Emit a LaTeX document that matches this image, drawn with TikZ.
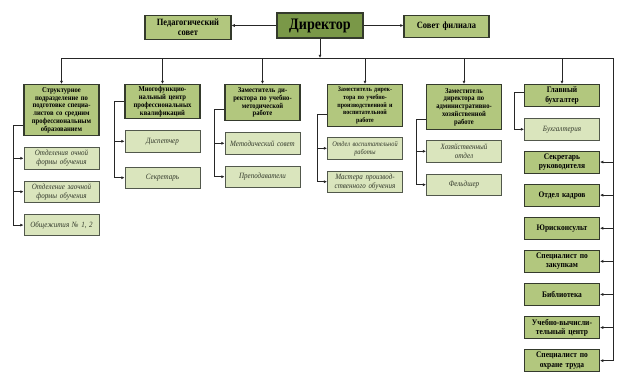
\documentclass[tikz,border=0pt]{standalone}
\usepackage{fontspec}
\setmainfont{Liberation Serif}[FakeStretch=0.88]
\usepackage{tikz}
\usetikzlibrary{positioning,arrows.meta,calc}
\definecolor{dirc}{RGB}{122,152,72}
\definecolor{unitc}{RGB}{178,199,126}
\definecolor{subc}{RGB}{218,229,189}
\definecolor{edgec}{RGB}{52,58,44}
\definecolor{textc}{RGB}{52,58,44}
\tikzset{
  chief/.style = {draw=edgec, line width=1.1pt, fill=dirc, align=center, inner sep=2pt,
                  font=\fontsize{16}{18}\selectfont\bfseries},
  unit/.style  = {draw=edgec, line width=1.1pt, fill=unitc, align=center, inner xsep=2pt,
                  inner ysep=1pt, text width=71pt, anchor=north,
                  font=\fontsize{7.5}{7.8}\selectfont\bfseries},
  staff/.style = {unit, minimum height=22pt, font=\fontsize{8.5}{9.2}\selectfont\bfseries},
  sub/.style   = {draw=edgec!85, line width=0.9pt, fill=subc, align=center, inner xsep=2pt,
                  inner ysep=1pt, text width=71pt, minimum height=21.5pt, text=textc,
                  font=\fontsize{8}{9}\selectfont\itshape},
  link/.style  = {line width=0.6pt, draw=black!85},
  flow/.style  = {link, -{Latex[length=3.2pt,width=3pt]}},
}

\begin{document}
\begin{tikzpicture}[x=1pt, y=-1pt]

\fill[white] (0,0) rectangle (625,375);
\useasboundingbox (0,0) rectangle (625,375);

% top row
\node[chief, minimum width=86pt, minimum height=25pt] (dir) at (320,25.5) {Директор};
\node[unit, anchor=center, text width=82pt, minimum height=24pt,
      font=\fontsize{9.6}{9.6}\selectfont\bfseries] (ped) at (188,27.5) {Педагогический\\совет};
\node[unit, anchor=center, text width=81pt, minimum height=22pt,
      font=\fontsize{9.6}{9.6}\selectfont\bfseries] (sov) at (446.5,26.5) {Совет филиала};

% departments
\node[unit, minimum height=51pt] (str) at (61.5,84) {Структурное\\подразделение по\\подготовке специа-\\листов со средним\\профессиональным\\образованием};
\node[unit, minimum height=34pt] (mfc) at (162.5,84) {Многофункцио-\\нальный центр\\профессиональных\\квалификаций};
\node[unit, minimum height=36pt] (zum) at (262.5,84) {Заместитель ди-\\ректора по учебно-\\методической\\работе};
\node[unit, minimum height=42pt, font=\fontsize{6.8}{7.6}\selectfont\bfseries] (zup) at (365,84) {Заместитель дирек-\\тора по учебно-\\производственной и\\воспитательной\\работе};
\node[unit, minimum height=45pt] (zah) at (464,84) {Заместитель\\директора по\\административно-\\хозяйственной\\работе};
\node[unit, minimum height=22pt, font=\fontsize{8.5}{9.2}\selectfont\bfseries] (glb) at (562,84) {Главный\\бухгалтер};

% sections
\node[sub, below=11pt of str] (och) {Отделения очной\\формы обучения};
\node[sub, below=11pt of och] (zao) {Отделение заочной\\формы обучения};
\node[sub, below=11pt of zao] (obs) {Общежития № 1, 2};
\node[sub, below=11pt of mfc] (dis) {Диспетчер};
\node[sub, below=14pt of dis] (sek) {Секретарь};
\node[sub, below=11pt of zum] (mso) {Методический совет};
\node[sub, below=11pt of mso] (pre) {Преподаватели};
\node[sub, below=10pt of zup, font=\fontsize{7.2}{8}\selectfont\itshape] (ovr) {Отдел воспитательной\\работы};
\node[sub, below=11pt of ovr] (mpo) {Мастера производ-\\ственного обучения};
\node[sub, below=10pt of zah] (hoz) {Хозяйственный\\отдел};
\node[sub, below=11pt of hoz] (fel) {Фельдшер};
\node[sub, below=11pt of glb] (buh) {Бухгалтерия};

% staff on the right
\node[staff, below=10pt of buh] (sru) {Секретарь\\руководителя};
\node[staff, below=10pt of sru] (oka) {Отдел кадров};
\node[staff, below=10pt of oka] (yur) {Юрисконсульт};
\node[staff, below=10pt of yur] (spz) {Специалист по\\закупкам};
\node[staff, below=10pt of spz] (bib) {Библиотека};
\node[staff, below=10pt of bib] (uvc) {Учебно-вычисли-\\тельный центр};
\node[staff, below=10pt of uvc] (sot) {Специалист по\\охране труда};

% director links
\coordinate (busL) at (61.5,58);
\coordinate (busR) at (613,58);
\draw[flow] (dir) -- (dir -| ped.east);
\draw[flow] (dir) -- (dir -| sov.west);
\draw[flow] (dir) -- (dir |- busL);
\draw[link] (busL) -- (busR) -- (busR |- sot.east);

\draw[flow] (busL) -- (str);
\draw[flow] (mfc |- busL) -- (mfc);
\draw[flow] (zum |- busL) -- (zum);
\draw[flow] (zup |- busL) -- (zup);
\draw[flow] (zah |- busL) -- (zah);
\draw[flow] (glb |- busL) -- (glb);

\draw[flow] (busR |- sru) -- (sru);
\draw[flow] (busR |- oka) -- (oka);
\draw[flow] (busR |- yur) -- (yur);
\draw[flow] (busR |- spz) -- (spz);
\draw[flow] (busR |- bib) -- (bib);
\draw[flow] (busR |- uvc) -- (uvc);
\draw[flow] (busR |- sot) -- (sot);

% brackets to sections
\draw[flow] ($(str.south west)!.2!(str.north west)$) -- ++(-10,0) coordinate (xstr) |- (obs);
\draw[flow] (xstr |- och) -- (och);
\draw[flow] (xstr |- zao) -- (zao);
\draw[flow] (mfc.west) -- ++(-10,0) |- (sek);
\draw[flow] ($(mfc.west)+(-10pt,0)$) |- (dis);
\draw[flow] ($(zum.south west)!.33!(zum.north west)$) -- ++(-10,0) coordinate (xzum) |- (pre);
\draw[flow] (xzum |- mso) -- (mso);
\draw[flow] ($(zup.south west)!.29!(zup.north west)$) -- ++(-10,0) coordinate (xzup) |- (mpo);
\draw[flow] (xzup |- ovr) -- (ovr);
\draw[flow] ($(zah.south west)!.24!(zah.north west)$) -- ++(-10,0) coordinate (xzah) |- (fel);
\draw[flow] (xzah |- hoz) -- (hoz);
\draw[flow] ($(glb.south west)!.64!(glb.north west)$) -- ++(-10,0) |- (buh);

\end{tikzpicture}
\end{document}
